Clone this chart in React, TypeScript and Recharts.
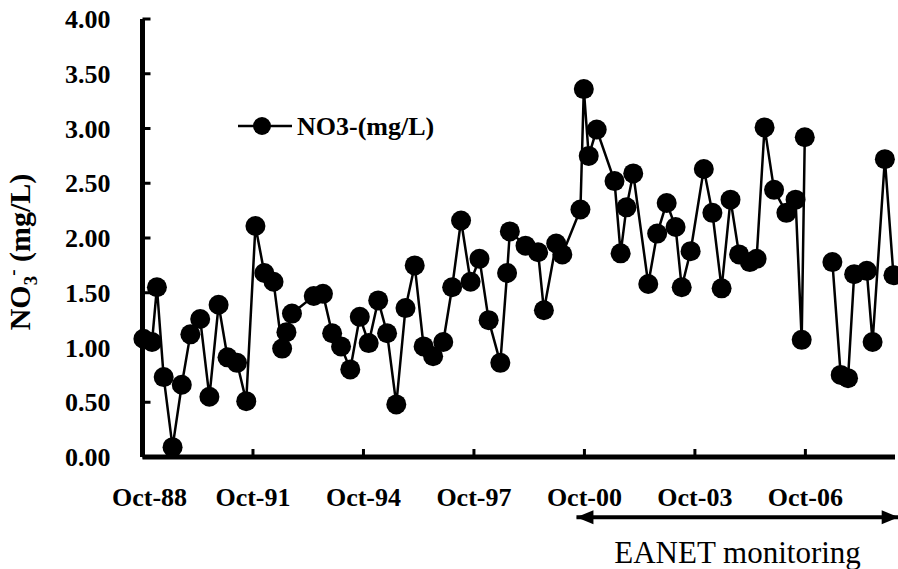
import React from 'react'
import { LineChart, Line, XAxis, YAxis, ReferenceLine, ReferenceDot } from 'recharts'

const FONT = 'Liberation Serif'

// sampling time, in months after Oct-88
const months = [
  0.3, 3.1, 4.7, 6.9, 9.8, 12.8, 15.6, 18.8, 21.8, 24.8, 27.7, 30.8, 33.8, 36.8, 39.7, 42.7,
  45.5, 46.9, 48.7, 55.8, 58.8, 61.8, 64.7, 67.7, 70.8, 73.7, 76.8, 79.7, 82.7, 85.7, 88.7, 91.6,
  94.7, 98.0, 100.9, 103.8, 106.9, 109.8, 112.8, 116.6, 118.8, 119.7, 124.8, 128.9, 130.8, 134.8,
  136.8, 142.7, 143.8, 145.4, 148.0, 153.8, 155.8, 157.7, 159.9, 164.8, 167.7, 170.8, 173.7, 175.7,
  178.6, 182.9, 185.7, 188.7, 191.6, 194.4, 197.9, 200.1, 202.7, 205.8, 209.8, 212.8, 214.8, 215.8,
  220, 224.8, 227.5, 229.9, 231.9, 236.0, 237.9, 241.9, 244.7,
]

// NO3- (mg/L); null = no sample
const no3 = [
  1.08, 1.05, 1.55, 0.73, 0.09, 0.66, 1.12, 1.26, 0.55, 1.39, 0.91, 0.86, 0.51, 2.11, 1.68, 1.60,
  0.99, 1.14, 1.31, 1.47, 1.49, 1.13, 1.01, 0.80, 1.28, 1.04, 1.43, 1.13, 0.48, 1.36, 1.75, 1.01,
  0.92, 1.05, 1.55, 2.16, 1.60, 1.81, 1.25, 0.86, 1.68, 2.06, 1.93, 1.87, 1.34, 1.95,
  1.85, 2.26, 3.36, 2.75, 2.99, 2.52, 1.86, 2.28, 2.59, 1.58, 2.04, 2.32, 2.10, 1.55,
  1.88, 2.63, 2.23, 1.54, 2.35, 1.85, 1.78, 1.81, 3.01, 2.44, 2.23, 2.35, 1.07, 2.92,
  null, 1.78, 0.75, 0.72, 1.67, 1.70, 1.05, 2.72, 1.66,
]

const xTicks = [0, 36, 72, 108, 144, 180, 216]
const xTickLabels = ['Oct-88', 'Oct-91', 'Oct-94', 'Oct-97', 'Oct-00', 'Oct-03', 'Oct-06']
const yTicks = [0, 0.5, 1, 1.5, 2, 2.5, 3, 3.5, 4]
const xDomain: [number, number] = [0, 245.2]

// EANET monitoring period arrow (months) drawn below the axis
const eanetStart = 141.4
const eanetEnd = 246.4
const arrowLevel = -0.55

const data = months.map((m, i) => ({ month: m, no3: no3[i] }))

function ArrowHead({ cx, cy, dir }: { cx?: number; cy?: number; dir: number }) {
  if (cx == null || cy == null) return null
  const len = 17
  const half = 7
  return (
    <path
      d={`M${cx},${cy} L${cx - dir * len},${cy - half} L${cx - dir * len},${cy + half} Z`}
      fill="#000"
    />
  )
}

// first label sits a little inside the frame, like Excel does
function XTick({ x, y, payload, index }: any) {
  const shift = index === 0 ? 7 : 0
  return (
    <text x={x + shift} y={y} dy="0.71em" textAnchor="middle" fontFamily={FONT} fontWeight="bold" fontSize={26} fill="#000">
      {xTickLabels[xTicks.indexOf(payload.value)]}
    </text>
  )
}

const tickStyle = { fontSize: 26, fontWeight: 'bold', fill: '#000', fontFamily: FONT }

export default function App() {
  return (
    <div style={{ position: 'absolute', left: 0, top: 0, background: '#fff' }}>
      <LineChart width={898} height={569} data={data} margin={{ top: 19, right: 3, bottom: 72, left: 42.5 }}>
        <XAxis
          dataKey="month"
          type="number"
          domain={xDomain}
          ticks={xTicks}
          interval={0}
          tick={<XTick />}
          axisLine={{ stroke: '#000', strokeWidth: 5 }}
          tickLine={{ stroke: '#000', strokeWidth: 3 }}
          tickSize={-8}
          tickMargin={39}
          height={40}
        />
        <XAxis xAxisId="top" orientation="top" type="number" domain={xDomain} tick={false} tickLine={false} height={0} axisLine={{ stroke: '#000', strokeWidth: 5 }} />
        <YAxis
          type="number"
          domain={[0, 4]}
          ticks={yTicks}
          interval={0}
          tickFormatter={(v) => v.toFixed(2)}
          tick={tickStyle}
          axisLine={{ stroke: '#000', strokeWidth: 5 }}
          tickLine={{ stroke: '#000', strokeWidth: 3 }}
          tickSize={-8}
          tickMargin={40}
          width={100}
        />
        <YAxis yAxisId="right" orientation="right" type="number" domain={[0, 4]} tick={false} tickLine={false} width={0} axisLine={{ stroke: '#000', strokeWidth: 5 }} />
        <text
          transform="translate(30, 252) rotate(-90)"
          textAnchor="middle"
          fontFamily={FONT}
          fontWeight="bold"
          fontSize={30}
          fill="#000"
        >
          NO<tspan fontSize={19} dy={7}>3</tspan>
          <tspan fontSize={19} dy={-18}>-</tspan>
          <tspan dy={11}> (mg/L)</tspan>
        </text>
        <g>
          <line x1={238} y1={126} x2={292} y2={126} stroke="#000" strokeWidth={2.5} />
          <circle cx={262} cy={126} r={9} fill="#000" />
          <text x={297} y={135} fontFamily={FONT} fontWeight="bold" fontSize={26} fill="#000">
            NO3-(mg/L)
          </text>
        </g>
        <ReferenceLine
          segment={[{ x: eanetStart, y: arrowLevel }, { x: eanetEnd, y: arrowLevel }]}
          ifOverflow="visible"
          stroke="#000"
          strokeWidth={4}
          label={{ value: 'EANET monitoring', position: 'bottom', offset: 24, fontSize: 31, fill: '#000', fontFamily: FONT }}
        />
        <ReferenceDot x={eanetStart} y={arrowLevel} ifOverflow="visible" shape={(p: any) => <ArrowHead cx={p.cx} cy={p.cy} dir={-1} />} />
        <ReferenceDot x={eanetEnd} y={arrowLevel} ifOverflow="visible" shape={(p: any) => <ArrowHead cx={p.cx} cy={p.cy} dir={1} />} />
        <Line
          type="linear"
          dataKey="no3"
          stroke="#000"
          strokeWidth={2.5}
          dot={{ r: 10, fill: '#000', stroke: '#000', strokeWidth: 0 }}
          activeDot={false}
          isAnimationActive={false}
        />
      </LineChart>
    </div>
  )
}
